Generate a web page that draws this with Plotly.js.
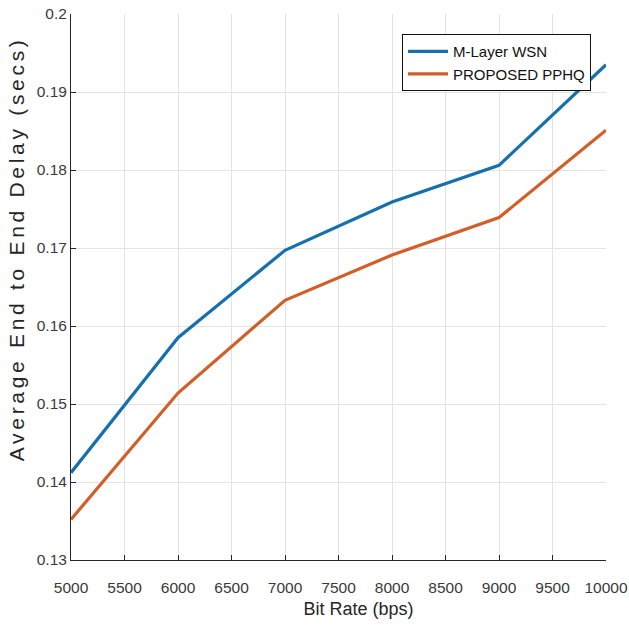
<!DOCTYPE html>
<html>
<head>
<meta charset="utf-8">
<script src="https://cdn.plot.ly/plotly-3.0.1.min.js"></script>
<style>
html,body{margin:0;padding:0;background:#fff;}
#chart{width:629px;height:632px;}
.ytitle{letter-spacing:3.7px;}
</style>
</head>
<body>
<div id="chart"></div>
<script>
const bitRate = [5000, 6000, 7000, 8000, 9000, 10000];
const mLayerWSN = [0.1412, 0.1585, 0.1697, 0.1759, 0.1806, 0.1935];
const proposedPPHQ = [0.1352, 0.1514, 0.1633, 0.1691, 0.1739, 0.1851];
const seriesNames = ['M-Layer WSN', 'PROPOSED PPHQ'];
const xTickVals = [5000, 5500, 6000, 6500, 7000, 7500, 8000, 8500, 9000, 9500, 10000];
const xTickText = ['5000', '5500', '6000', '6500', '7000', '7500', '8000', '8500', '9000', '9500', '10000'];
const yTickVals = [0.13, 0.14, 0.15, 0.16, 0.17, 0.18, 0.19, 0.2];
const yTickText = ['0.13', '0.14', '0.15', '0.16', '0.17', '0.18', '0.19', '0.2'];

const sans = '"Liberation Sans", Arial, sans-serif';
const pad = (n) => '<span style="color:rgba(0,0,0,0)">' + '\u00a0'.repeat(n) + '</span>';

const traces = [
  {x: bitRate, y: mLayerWSN, name: seriesNames[0], type: 'scatter', mode: 'lines',
   line: {color: '#1670ad', width: 3.2}},
  {x: bitRate, y: proposedPPHQ, name: seriesNames[1], type: 'scatter', mode: 'lines',
   line: {color: '#d25f28', width: 3.2}}
];

const layout = {
  width: 629, height: 632,
  margin: {l: 71, r: 23, t: 14, b: 72},
  paper_bgcolor: '#ffffff', plot_bgcolor: '#ffffff',
  showlegend: true,
  legend: {
    x: 0.972, y: 0.963, xanchor: 'right', yanchor: 'top',
    bgcolor: '#ffffff', bordercolor: '#111111', borderwidth: 1,
    font: {family: sans, size: 15, color: '#111111'},
    tracegroupgap: 0, itemwidth: 40
  },
  xaxis: {
    range: [5000, 10000], tickvals: xTickVals, ticktext: xTickText,
    showgrid: true, gridcolor: '#e3e3e3', gridwidth: 1,
    showline: true, linecolor: '#262626', linewidth: 1, mirror: false,
    ticks: 'inside', ticklen: 5, tickcolor: '#262626',
    tickfont: {family: sans, size: 15.5, color: '#3a3a3a'},
    ticklabelstandoff: 13,
    zeroline: false,
    title: {text: pad(8) + 'Bit Rate (bps)', font: {family: sans, size: 18, color: '#262626'}, standoff: 7}
  },
  yaxis: {
    range: [0.13, 0.2], tickvals: yTickVals, ticktext: yTickText,
    showgrid: true, gridcolor: '#e3e3e3', gridwidth: 1,
    showline: true, linecolor: '#262626', linewidth: 1, mirror: false,
    ticks: 'inside', ticklen: 5, tickcolor: '#262626',
    tickfont: {family: sans, size: 15.5, color: '#3a3a3a'},
    zeroline: false,
    title: {text: pad(8) + 'Average End to End Delay (secs)', font: {family: sans, size: 21, color: '#262626'}, standoff: 6}
  }
};

Plotly.newPlot('chart', traces, layout, {displayModeBar: false, staticPlot: true});
</script>
</body>
</html>
